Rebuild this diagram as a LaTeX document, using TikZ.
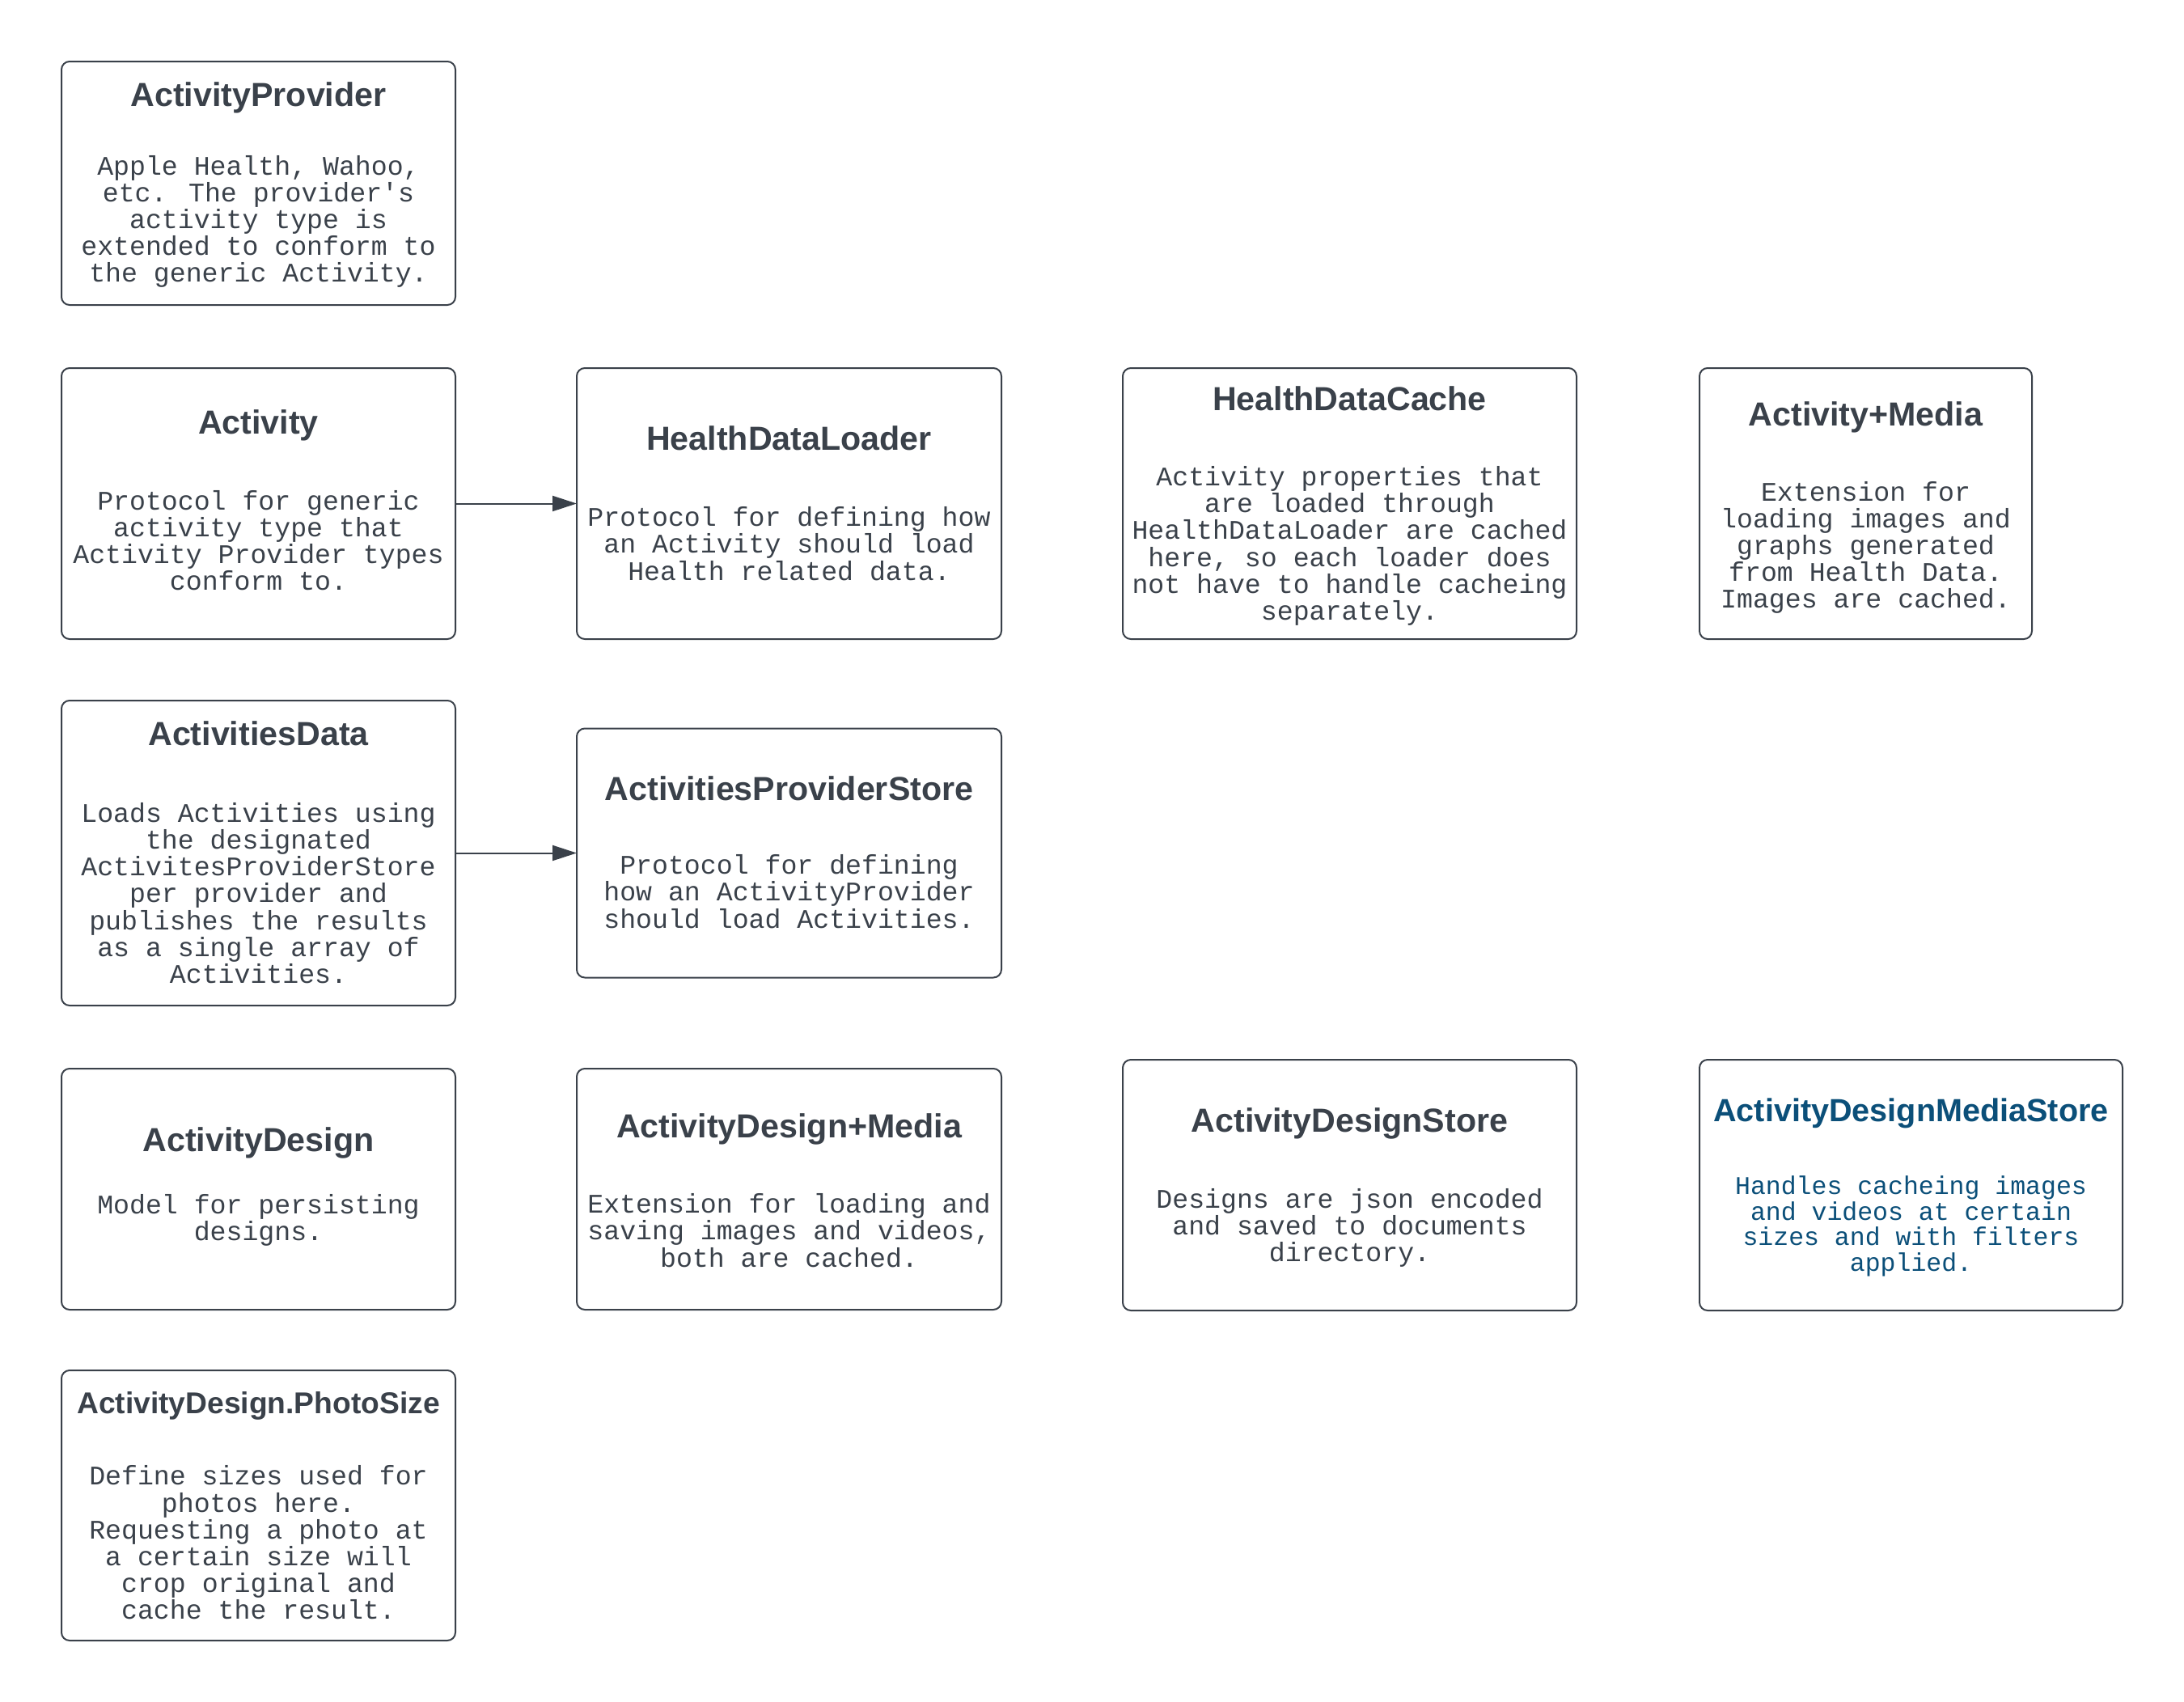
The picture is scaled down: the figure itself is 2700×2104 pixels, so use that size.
\documentclass[tikz,border=0pt]{standalone}
\usepackage{fontspec}
\setmainfont{Liberation Sans}
\newfontfamily\monofont{Liberation Mono}
\usetikzlibrary{arrows.meta}
\definecolor{ink}{HTML}{3A414A}
\definecolor{bluetxt}{HTML}{0B4F79}
\tikzset{
  box/.style={draw=ink, line width=1pt, rounded corners=5pt, inner sep=0pt, outer sep=0pt, fill=white},
  ttl/.style={text=ink, inner sep=0pt, align=center, font=\fontsize{20.6pt}{24pt}\selectfont\bfseries},
  bdy/.style={text=ink, inner sep=0pt, align=center, font=\monofont\fontsize{16.6pt}{16.6pt}\selectfont},
  conn/.style={draw=ink, line width=1pt, -{Triangle[length=15pt, width=9.5pt]}}
}
\begin{document}
\begin{tikzpicture}[x=0.5pt, y=-0.5pt]
\useasboundingbox (0,0) rectangle (2700,2104);
% boxes
\node[box, minimum width=243.5pt, minimum height=150.5pt] (ap) at (319.5,226.5) {};
\node[box, minimum width=243.5pt, minimum height=167.5pt] (act) at (319.5,622.5) {};
\node[box, minimum width=262.5pt, minimum height=167.5pt] (hdl) at (975.5,622.5) {};
\node[box, minimum width=280.5pt, minimum height=167.5pt] (hdc) at (1668.5,622.5) {};
\node[box, minimum width=205.5pt, minimum height=167.5pt] (am) at (2306.5,622.5) {};
\node[box, minimum width=243.5pt, minimum height=188.5pt] (ad) at (319.5,1054.5) {};
\node[box, minimum width=262.5pt, minimum height=154pt] (aps) at (975.5,1054.5) {};
\node[box, minimum width=243.5pt, minimum height=149pt] (des) at (319.5,1470) {};
\node[box, minimum width=262.5pt, minimum height=149pt] (dm) at (975.5,1470) {};
\node[box, minimum width=280.5pt, minimum height=155pt] (ds) at (1668.5,1465) {};
\node[box, minimum width=261.5pt, minimum height=155pt] (dms) at (2362.5,1465) {};
\node[box, minimum width=243.5pt, minimum height=167pt] (ps) at (319.5,1861) {};
% titles
\node[ttl] (apT) at (319.5,121) {ActivityProvider};
\node[ttl] (actT) at (319.5,526) {Activity};
\node[ttl] (hdlT) at (975.5,542) {HealthDataLoader};
\node[ttl] (hdcT) at (1668.5,493) {HealthDataCache};
\node[ttl] (amT) at (2306.5,516) {Activity+Media};
\node[ttl] (adT) at (319.5,907) {ActivitiesData};
\node[ttl] (apsT) at (975.5,975) {ActivitiesProviderStore};
\node[ttl] (desT) at (319.5,1413) {ActivityDesign};
\node[ttl] (dmT) at (975.5,1396) {ActivityDesign+Media};
\node[ttl] (dsT) at (1668.5,1389) {ActivityDesignStore};
\node[ttl, text=bluetxt, font=\fontsize{19.8pt}{23pt}\selectfont\bfseries] (dmsT) at (2362.5,1376) {ActivityDesignMediaStore};
\node[ttl, font=\fontsize{18.6pt}{22pt}\selectfont\bfseries] (psT) at (319.5,1738) {ActivityDesign.PhotoSize};
% bodies
\node[bdy] (apB) at (319.5,274) {Apple Health, Wahoo,\\etc. The provider's\\activity type is\\extended to conform to\\the generic Activity.};
\node[bdy] (actB) at (319.5,668) {Protocol for generic\\activity type that\\Activity Provider types\\conform to.};
\node[bdy] (hdlB) at (975.5,672) {Protocol for defining how\\an Activity should load\\Health related data.};
\node[bdy] (hdcB) at (1668.5,675) {Activity properties that\\are loaded through\\HealthDataLoader are cached\\here, so each loader does\\not have to handle cacheing\\separately.};
\node[bdy] (amB) at (2306.5,677) {Extension for\\loading images and\\graphs generated\\from Health Data.\\Images are cached.};
\node[bdy] (adB) at (319.5,1104) {Loads Activities using\\the designated\\ActivitesProviderStore\\per provider and\\publishes the results\\as a single array of\\Activities.};
\node[bdy] (apsB) at (975.5,1102) {Protocol for defining\\how an ActivityProvider\\should load Activities.};
\node[bdy] (desB) at (319.5,1508) {Model for persisting\\designs.};
\node[bdy] (dmB) at (975.5,1521) {Extension for loading and\\saving images and videos,\\both are cached.};
\node[bdy] (dsB) at (1668.5,1518) {Designs are json encoded\\and saved to documents\\directory.};
\node[bdy, text=bluetxt, font=\monofont\fontsize{15.75pt}{15.75pt}\selectfont] (dmsB) at (2362.5,1516) {Handles cacheing images\\and videos at certain\\sizes and with filters\\applied.};
\node[bdy] (psB) at (319.5,1907) {Define sizes used for\\photos here.\\Requesting a photo at\\a certain size will\\crop original and\\cache the result.};
% connectors
\draw[conn] (act.east) -- (hdl.west);
\draw[conn] (ad.east) -- (aps.west);
\end{tikzpicture}
\end{document}
